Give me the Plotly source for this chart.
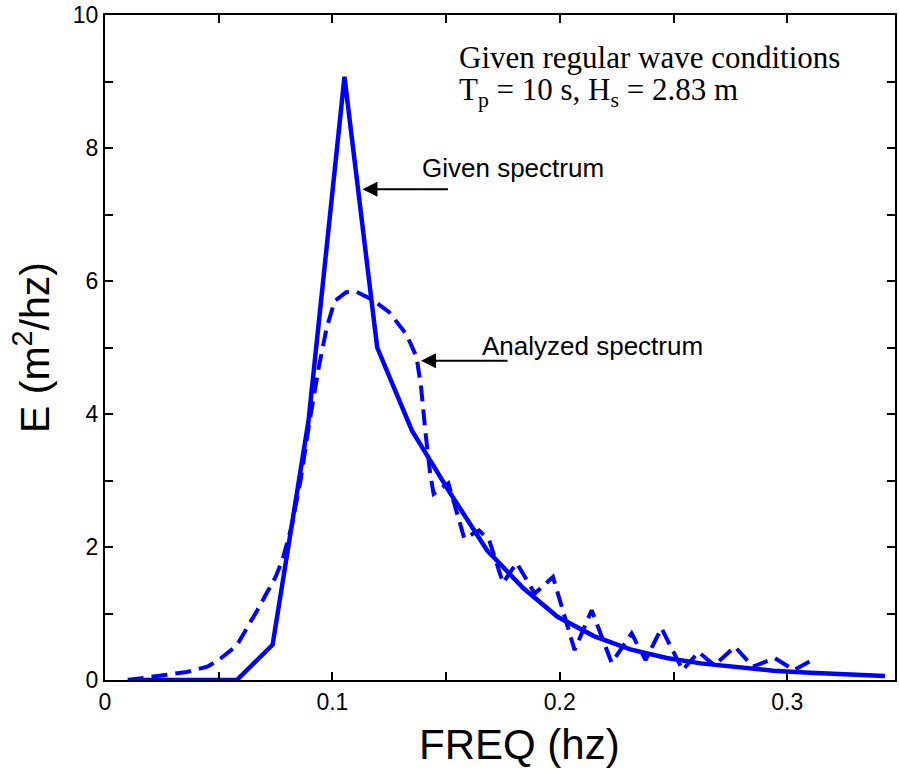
import plotly.graph_objects as go

# Given spectrum (solid)
given_freq = [0.0104, 0.058, 0.0737, 0.0895, 0.1053, 0.1197, 0.135, 0.152, 0.168, 0.184,
              0.199, 0.215, 0.231, 0.247, 0.262, 0.278, 0.294, 0.310, 0.325, 0.343]
given_E = [0.0, 0.0, 0.53, 3.9, 9.07, 5.0, 3.75, 2.8, 1.95, 1.38,
           0.95, 0.66, 0.46, 0.33, 0.25, 0.19, 0.14, 0.11, 0.09, 0.06]

# Analyzed spectrum (dashed)
anal_freq = [0.010, 0.021, 0.029, 0.036, 0.045, 0.050, 0.058, 0.062, 0.067, 0.071,
             0.075, 0.078, 0.082, 0.086, 0.090, 0.094, 0.0975, 0.101, 0.106, 0.1105,
             0.1175, 0.125, 0.1325, 0.137, 0.139, 0.141, 0.143, 0.1445, 0.151, 0.158,
             0.1645, 0.169, 0.175, 0.181, 0.189, 0.197, 0.2065, 0.214, 0.2228, 0.2316,
             0.2377, 0.2447, 0.254, 0.261, 0.268, 0.277, 0.285, 0.2945, 0.303, 0.311]
anal_E = [0.0, 0.05, 0.09, 0.12, 0.2, 0.3, 0.52, 0.75, 1.05, 1.3,
          1.55, 1.8, 2.3, 3.0, 3.9, 4.7, 5.3, 5.7, 5.83, 5.84,
          5.72, 5.53, 5.2, 4.86, 4.4, 3.7, 3.1, 2.8, 2.96, 2.13,
          2.25, 2.1, 1.46, 1.76, 1.3, 1.55, 0.45, 1.05, 0.26, 0.7,
          0.3, 0.78, 0.15, 0.42, 0.22, 0.5, 0.2, 0.33, 0.15, 0.3]

# Tick positions (labelled and unlabelled)
x_ticks = [0, 0.05, 0.1, 0.15, 0.2, 0.25, 0.3]
x_ticktext = ["0", "", "0.1", "", "0.2", "", "0.3"]
y_ticks = [0, 1, 2, 3, 4, 5, 6, 7, 8, 9, 10]
y_ticktext = ["0", "", "2", "", "4", "", "6", "", "8", "", "10"]

BLUE = "#0000FF"

fig = go.Figure()
fig.add_trace(go.Scatter(x=anal_freq, y=anal_E, mode="lines",
                         line=dict(color=BLUE, width=4, dash="16px,8px"),
                         showlegend=False))
fig.add_trace(go.Scatter(x=given_freq, y=given_E, mode="lines",
                         line=dict(color=BLUE, width=4.5),
                         showlegend=False))

axis_common = dict(showline=True, linecolor="black", linewidth=2, mirror="allticks",
                   ticks="inside", ticklen=8, tickwidth=2, tickcolor="black",
                   showgrid=False, zeroline=False,
                   tickfont=dict(family="Liberation Sans, Arial", size=23, color="black"))

fig.update_xaxes(range=[0, 0.3474], tickvals=x_ticks, ticktext=x_ticktext, **axis_common)
fig.update_yaxes(range=[0, 10], tickvals=y_ticks, ticktext=y_ticktext,
                 title=dict(text="E (m<sup>2</sup>/hz)", font=dict(family="Liberation Sans, Arial", size=41, color="black"), standoff=10),
                 **axis_common)

ann_font = dict(family="Liberation Sans, Arial", size=26, color="black")
serif_font = dict(family="Liberation Serif, Times New Roman", size=31, color="black")

fig.update_layout(
    width=899, height=769,
    margin=dict(l=105, r=2, t=15, b=89),
    plot_bgcolor="white", paper_bgcolor="white",
    annotations=[
        dict(x=0.5253, y=-0.0977, xref="paper", yref="paper", text="FREQ (hz)",
             showarrow=False, xanchor="center", yanchor="middle",
             font=dict(family="Liberation Sans, Arial", size=42, color="black")),
        dict(x=0.1548, y=9.36, xref="x", yref="y", text="Given regular wave conditions",
             showarrow=False, xanchor="left", yanchor="middle", font=serif_font),
        dict(x=0.1548, y=8.84, xref="x", yref="y",
             text="T<sub>p</sub> = 10 s, H<sub>s</sub> = 2.83 m",
             showarrow=False, xanchor="left", yanchor="middle", font=serif_font),
        dict(x=0.1794, y=7.70, xref="x", yref="y", text="Given spectrum",
             showarrow=False, xanchor="center", yanchor="middle", font=ann_font),
        dict(x=0.2145, y=5.03, xref="x", yref="y", text="Analyzed spectrum",
             showarrow=False, xanchor="center", yanchor="middle", font=ann_font),
        dict(x=0.1132, y=7.38, xref="x", yref="y", text="", showarrow=True,
             ax=87, ay=0, axref="pixel", ayref="pixel",
             arrowhead=2, arrowsize=1.5, arrowwidth=2, arrowcolor="black"),
        dict(x=0.139, y=4.80, xref="x", yref="y", text="", showarrow=True,
             ax=88, ay=0, axref="pixel", ayref="pixel",
             arrowhead=2, arrowsize=1.5, arrowwidth=2, arrowcolor="black"),
    ],
)

fig.write_html("out.html")
